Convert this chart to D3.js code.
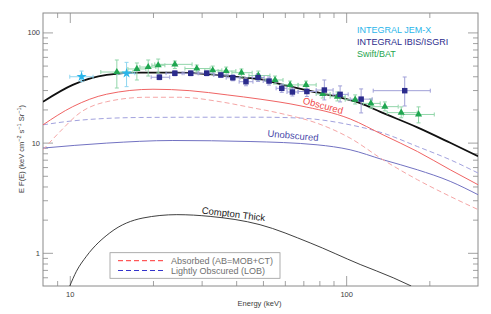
<!DOCTYPE html>
<html>
<head>
<meta charset="utf-8">
<script src="https://cdn.jsdelivr.net/npm/d3@7"></script>
<style>
  body { margin: 0; background: #fff; }
  svg { display: block; font-family: "Liberation Sans", Arial, sans-serif; }
</style>
</head>
<body>
<svg id="chart" width="491" height="314"></svg>
<script>
// ---------------------------------------------------------------------------
// Data (energy in keV, E F(E) in keV cm^-2 s^-1 sr^-1)
// ---------------------------------------------------------------------------

const totalE = [8, 10.25, 13.6, 17.9, 23.6, 31.4, 41.3, 48.8, 59.1, 74.1, 95.1, 113, 133, 181, 238, 300];
const totalF = [23.5, 33.4, 41.1, 43.1, 43.1, 41.9, 39.2, 37.6, 33.4, 29.4, 25.7, 22.7, 19.0, 13.75, 9.96, 7.52];

const obscuredE = [8, 10.25, 13.6, 20, 27.2, 37.1, 48.8, 68.1, 103.4, 136, 181, 238, 300];
const obscuredF = [14.5, 21.2, 27.5, 30.5, 29.6, 27.1, 24.8, 21.6, 16.4, 11.76, 8.31, 5.67, 4.15];

const absorbedE = [8, 9.2, 10.87, 13.6, 19, 25, 35, 44.9, 59.1, 78.5, 103.4, 136, 181, 238, 300];
const absorbedF = [8.61, 12.52, 18.6, 23.5, 25.8, 25.8, 23.5, 20.9, 18.2, 15.0, 10.98, 6.99, 4.61, 3.25, 2.47];

const lobE = [8, 10.25, 17.9, 31.4, 48.8, 68.1, 103.4, 136, 181, 238, 300];
const lobF = [14.5, 15.75, 16.9, 17.0, 17.0, 16.7, 14.5, 12.2, 9.22, 6.99, 5.30];

const unobsE = [8, 13.6, 23.6, 44.9, 78.5, 103.4, 136, 181, 238, 300];
const unobsF = [8.92, 9.90, 10.45, 10.23, 9.55, 8.61, 6.99, 5.67, 4.45, 3.37];

const comptonE = [10, 10.57, 11.49, 13.96, 18.4, 24.4, 32.2, 48.8, 74.1, 112.4, 148, 172];
const comptonF = [0.5, 0.68, 0.931, 1.517, 2.07, 2.22, 2.14, 1.80, 1.23, 0.784, 0.594, 0.5];

// measurements: [E, Elo, Ehi, F, Flo, Fhi]
const jemx = [
  [11.03, 10.0, 12.14, 39.6, 35.7, 44.6],
  [16.05, 14.92, 17.2, 42.6, 32.2, 53.5],
];

const isgri = [
  [21.1, 19.7, 23.0, 39.2, 37.2, 41.3],
  [24.0, 22.3, 25.9, 42.6, 40.4, 44.9],
  [27.4, 25.5, 29.3, 42.6, 40.4, 44.9],
  [31.3, 29.1, 33.2, 42.6, 40.4, 44.9],
  [35.2, 33.2, 37.4, 41.1, 39.0, 43.3],
  [38.9, 36.8, 41.3, 38.8, 36.4, 41.3],
  [43.4, 41.0, 46.0, 35.7, 32.8, 38.8],
  [48.0, 45.7, 50.5, 39.0, 35.9, 42.4],
  [52.6, 50.1, 55.8, 36.2, 33.3, 39.4],
  [58.5, 55.8, 61.1, 31.1, 28.6, 33.8],
  [63.9, 61.1, 67.0, 28.8, 26.5, 31.3],
  [72.1, 67.0, 77.9, 29.1, 26.2, 32.3],
  [83.4, 77.9, 89.7, 30.0, 24.4, 37.0],
  [95.1, 89.7, 101.7, 27.4, 23.4, 32.7],
  [113.3, 103.4, 124.2, 24.8, 18.6, 30.7],
  [162.9, 125.3, 201.6, 29.6, 21.5, 39.4],
];

const bat = [
  [14.8, 12.95, 16.92, 43.7, 31.3, 56.2],
  [17.49, 16.23, 18.85, 46.6, 37.0, 52.8],
  [19.22, 17.93, 20.49, 48.5, 40.2, 56.2],
  [20.89, 19.82, 22.09, 50.3, 42.8, 57.3],
  [24.0, 20.3, 27.7, 51.3, 47.0, 55.0],
  [28.8, 26.1, 32.2, 47.0, 43.7, 50.6],
  [32.9, 30.8, 35.5, 45.3, 41.9, 49.5],
  [36.8, 34.4, 39.9, 44.6, 41.1, 48.5],
  [41.8, 38.6, 45.7, 43.1, 39.4, 46.6],
  [48.1, 44.5, 53.0, 40.6, 37.0, 44.6],
  [55.3, 50.9, 59.1, 37.0, 34.0, 40.2],
  [62.7, 59.1, 67.0, 33.4, 30.7, 36.2],
  [71.6, 67.0, 77.9, 33.4, 30.7, 36.2],
  [82.3, 77.9, 87.5, 27.6, 25.4, 30.0],
  [93.0, 87.5, 99.2, 26.1, 23.9, 28.8],
  [107.8, 99.2, 115.2, 24.5, 22.4, 27.1],
  [122.9, 115.2, 132.8, 22.7, 20.6, 24.9],
  [138.1, 124.2, 154.3, 21.2, 19.4, 23.4],
  [158.2, 140.8, 180.8, 18.7, 16.8, 21.1],
  [182.8, 160.9, 208.4, 18.0, 15.1, 21.1],
];

const xMajor = [10, 100];
const xMinor = [9, 20, 30, 40, 50, 60, 70, 80, 90, 200];
const yMajor = [1, 10, 100];
const yMinor = [0.6, 0.7, 0.8, 0.9, 2, 3, 4, 5, 6, 7, 8, 9, 20, 30, 40, 50, 60, 70, 80, 90];

// ---------------------------------------------------------------------------
// Setup
// ---------------------------------------------------------------------------

const svg = d3.select("#chart");
const m = { left: 43, right: 478, top: 13, bottom: 286 };

const x = d3.scaleLog().domain([8, 300]).range([m.left, m.right]);
const y = d3.scaleLog().domain([0.5, 150]).range([m.bottom, m.top]);

const AXIS = "#8a8a8a";
const LABEL = "#3c3c3c";

// clip for curves
svg.append("defs").append("clipPath").attr("id", "plot-clip")
  .append("rect")
  .attr("x", m.left).attr("y", m.top)
  .attr("width", m.right - m.left).attr("height", m.bottom - m.top);

// ---------------------------------------------------------------------------
// Axes (ticks point inward on all four sides)
// ---------------------------------------------------------------------------

function tickAxis(axis, translate, vals, size, withLabels, padding) {
  axis.tickValues(vals).tickSize(-size).tickPadding(padding || 0)
    .tickFormat(withLabels ? d3.format("") : () => "");
  const g = svg.append("g").attr("transform", translate).call(axis);
  g.attr("font-family", null).attr("font-size", null);
  g.select(".domain").remove();
  g.selectAll("line").attr("stroke", AXIS).attr("stroke-width", 0.8);
  g.selectAll("text").attr("fill", LABEL).style("font-size", "7.5px");
  return g;
}

tickAxis(d3.axisBottom(x), `translate(0,${m.bottom})`, xMinor, 5, false);
tickAxis(d3.axisBottom(x), `translate(0,${m.bottom})`, xMajor, 10, true, 5.5);
tickAxis(d3.axisTop(x), `translate(0,${m.top})`, xMinor, 5, false);
tickAxis(d3.axisTop(x), `translate(0,${m.top})`, xMajor, 10, false);
tickAxis(d3.axisLeft(y), `translate(${m.left},0)`, yMinor, 5, false);
tickAxis(d3.axisLeft(y), `translate(${m.left},0)`, yMajor, 10, true, 3);
tickAxis(d3.axisRight(y), `translate(${m.right},0)`, yMinor, 5, false);
tickAxis(d3.axisRight(y), `translate(${m.right},0)`, yMajor, 10, false);

svg.append("rect")
  .attr("x", m.left).attr("y", m.top)
  .attr("width", m.right - m.left).attr("height", m.bottom - m.top)
  .attr("fill", "none").attr("stroke", AXIS).attr("stroke-width", 1);

// axis titles
svg.append("text")
  .attr("x", 259.5).attr("y", 306)
  .attr("text-anchor", "middle")
  .attr("fill", LABEL).style("font-size", "7.5px")
  .text("Energy (keV)");

const yTitle = svg.append("text")
  .attr("transform", "translate(24,149) rotate(-90)")
  .attr("text-anchor", "middle")
  .attr("fill", LABEL).style("font-size", "7.5px");
[["E F(E) (keV cm", 0], ["\u22122", 1], [" s", 0], ["\u22121", 1], [" Sr", 0], ["\u22121", 1], [")", 0]]
  .forEach(([t, sup], i, arr) => {
    const prevSup = i > 0 ? arr[i - 1][1] : 0;
    const ts = yTitle.append("tspan").text(t);
    if (sup) ts.attr("dy", -3).style("font-size", "5.5px");
    else if (prevSup) ts.attr("dy", 3);
  });

// ---------------------------------------------------------------------------
// Model curves
// ---------------------------------------------------------------------------

const line = d3.line()
  .x((d) => x(d[0]))
  .y((d) => y(d[1]))
  .curve(d3.curveMonotoneX);

const curves = svg.append("g").attr("clip-path", "url(#plot-clip)");

function drawCurve(E, F, color, width, dash) {
  curves.append("path")
    .attr("d", line(d3.zip(E, F)))
    .attr("fill", "none")
    .attr("stroke", color)
    .attr("stroke-width", width)
    .attr("stroke-dasharray", dash || null);
}

drawCurve(comptonE, comptonF, "#2a2a2a", 0.9);
drawCurve(unobsE, unobsF, "#7272c2", 1);
drawCurve(lobE, lobF, "#a2a2de", 1, "5,3");
drawCurve(absorbedE, absorbedF, "#f5a6a6", 1, "5,3");
drawCurve(obscuredE, obscuredF, "#f06464", 1);
drawCurve(totalE, totalF, "#111", 1.8);

// curve labels
function curveLabel(text, cx, cy, angle, color) {
  svg.append("text")
    .attr("transform", `translate(${cx},${cy}) rotate(${angle})`)
    .attr("text-anchor", "middle")
    .attr("dy", "0.35em")
    .attr("fill", color)
    .style("font-size", "9.5px")
    .text(text);
}

curveLabel("Obscured", 323, 105.5, 15, "#f04a4a");
curveLabel("Unobscured", 293, 135.5, 5, "#4a4aaa");
curveLabel("Compton Thick", 233.5, 214, 7, "#222");

// ---------------------------------------------------------------------------
// Measurements
// ---------------------------------------------------------------------------

function drawErrors(data, color) {
  const g = svg.append("g")
    .attr("stroke", color).attr("stroke-width", 1).attr("fill", "none");
  const cap = 2;
  data.forEach(([E, Elo, Ehi, F, Flo, Fhi]) => {
    const px = x(E), py = y(F);
    const x0 = x(Elo), x1 = x(Ehi), y0 = y(Flo), y1 = y(Fhi);
    g.append("path").attr("d",
      `M${x0},${py}H${x1}` +
      `M${x0},${py - cap}V${py + cap}M${x1},${py - cap}V${py + cap}` +
      `M${px},${y0}V${y1}` +
      `M${px - cap},${y0}H${px + cap}M${px - cap},${y1}H${px + cap}`);
  });
}

function drawMarkers(data, type, size, color) {
  const sym = d3.symbol().type(type).size(size);
  svg.append("g").selectAll("path")
    .data(data)
    .join("path")
    .attr("transform", (d) => `translate(${x(d[0])},${y(d[3])})`)
    .attr("d", sym)
    .attr("fill", color);
}

drawErrors(bat, "#92d6aa");
drawErrors(isgri, "#a0a0d8");
drawErrors(jemx, "#8ed6f0");

drawMarkers(bat, d3.symbolTriangle, 22, "#1fa650");
drawMarkers(isgri, d3.symbolSquare, 30, "#2b2b8c");
drawMarkers(jemx, d3.symbolStar, 32, "#29b5ea");

// ---------------------------------------------------------------------------
// Legends
// ---------------------------------------------------------------------------

const dataLegend = [
  ["INTEGRAL JEM-X", "#29b5ea"],
  ["INTEGRAL IBIS/ISGRI", "#2b2b8c"],
  ["Swift/BAT", "#1fa650"],
];
dataLegend.forEach(([t, c], i) => {
  svg.append("text")
    .attr("x", 357).attr("y", 33.3 + i * 11.8)
    .attr("fill", c).style("font-size", "9px")
    .text(t);
});

svg.append("rect")
  .attr("x", 110).attr("y", 252.7)
  .attr("width", 170).attr("height", 25.6)
  .attr("fill", "#fff").attr("stroke", "#9a9a9a").attr("stroke-width", 0.8);

const modelLegend = [
  ["Absorbed (AB=MOB+CT)", "#ff3030"],
  ["Lightly Obscured (LOB)", "#3434cc"],
];
modelLegend.forEach(([t, c], i) => {
  const ly = 260.7 + i * 9.8;
  svg.append("line")
    .attr("x1", 118).attr("x2", 164).attr("y1", ly).attr("y2", ly)
    .attr("stroke", c).attr("stroke-width", 1).attr("stroke-dasharray", "5,3");
  svg.append("text")
    .attr("x", 171).attr("y", ly).attr("dy", "0.35em")
    .attr("fill", "#707070").style("font-size", "9px")
    .text(t);
});
</script>
</body>
</html>
